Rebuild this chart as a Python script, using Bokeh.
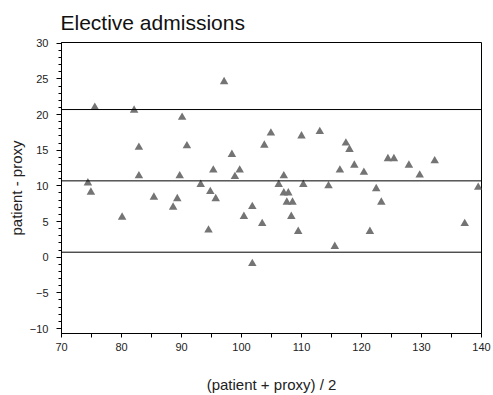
from bokeh.plotting import figure
from bokeh.models import Span, FixedTicker
from bokeh.embed import file_html
from bokeh.resources import INLINE

# ---- data ----
avg_values = [75.55, 82.1, 90.1, 82.9, 90.9, 82.9, 89.7, 74.4, 93.2, 74.9,
              94.8, 85.4, 89.3, 88.6, 80.1, 94.5, 97.1, 104.9, 110.0, 113.05,
              117.4, 118.0, 103.8, 98.4, 95.3, 99.7, 98.9, 107.05, 116.4, 106.2,
              110.3, 114.5, 107.05, 107.8, 95.7, 107.55, 108.5, 101.8, 100.4, 108.3,
              103.45, 109.45, 115.55, 101.8, 124.4, 125.4, 127.9, 132.2, 118.8, 120.4,
              129.7, 122.45, 123.3, 121.4, 137.2, 139.45]
diff_values = [21.0, 20.6, 19.6, 15.4, 15.6, 11.4, 11.4, 10.4, 10.2, 9.1,
               9.2, 8.4, 8.2, 7.0, 5.6, 3.8, 24.6, 17.4, 17.0, 17.6,
               16.0, 15.1, 15.7, 14.4, 12.2, 12.2, 11.3, 11.4, 12.2, 10.2,
               10.2, 10.0, 9.0, 9.0, 8.2, 7.7, 7.7, 7.1, 5.7, 5.7,
               4.7, 3.6, 1.5, -0.9, 13.8, 13.8, 12.9, 13.5, 12.9, 11.9,
               11.5, 9.6, 7.7, 3.6, 4.7, 9.8]
mean_diff = 10.7
upper_limit = 20.7
lower_limit = 0.7

x_ticks = [70, 80, 90, 100, 110, 120, 130, 140]
x_minor = [75, 85, 95, 105, 115, 125, 135]
y_ticks = [-10, -5, 0, 5, 10, 15, 20, 25, 30]
y_minor = list(range(-10, 31))

FONT = "Liberation Sans"

p = figure(width=493, height=395, x_range=(70, 140), y_range=(-10.7, 30.1),
           output_backend="svg", toolbar_location=None,
           min_border_left=61, min_border_right=12, min_border_top=41,
           min_border_bottom=60)

p.title.text = "Elective admissions"
p.title.text_font = FONT
p.title.text_font_size = "21px"
p.title.text_font_style = "normal"
p.title.text_color = "#111111"
p.title.align = "left"
p.title.offset = -1
p.title.standoff = 17

p.grid.visible = False
p.outline_line_color = "black"
p.outline_line_alpha = 1.0
p.background_fill_color = "white"
p.border_fill_color = "white"

for loc in [upper_limit, mean_diff, lower_limit]:
    p.add_layout(Span(location=loc, dimension="width", line_color="black",
                      line_width=1))

p.scatter(avg_values, diff_values, marker="triangle", size=8.5,
          fill_color="#747474", line_color=None)

xa = p.xaxis[0]
xa.ticker = FixedTicker(ticks=x_ticks, minor_ticks=x_minor)
xa.major_tick_out = 4
xa.major_tick_in = 0
xa.minor_tick_out = 4
xa.minor_tick_in = 0
xa.axis_label = "(patient + proxy) / 2"
xa.major_label_standoff = 5
xa.axis_label_standoff = 22

ya = p.yaxis[0]
ya.ticker = FixedTicker(ticks=y_ticks, minor_ticks=y_minor)
ya.major_tick_out = 5
ya.major_tick_in = 0
ya.minor_tick_out = 3
ya.minor_tick_in = 0
ya.axis_label = "patient - proxy"
ya.major_label_standoff = 8
ya.axis_label_standoff = 2

for ax in (xa, ya):
    ax.axis_line_color = "black"
    ax.major_tick_line_color = "black"
    ax.minor_tick_line_color = "black"
    ax.major_label_text_font = FONT
    ax.major_label_text_font_size = "11px"
    ax.major_label_text_color = "#222222"
    ax.axis_label_text_font = FONT
    ax.axis_label_text_font_size = "15px"
    ax.axis_label_text_font_style = "normal"
    ax.axis_label_text_color = "#222222"

open("out.html", "w").write(file_html(p, INLINE))
